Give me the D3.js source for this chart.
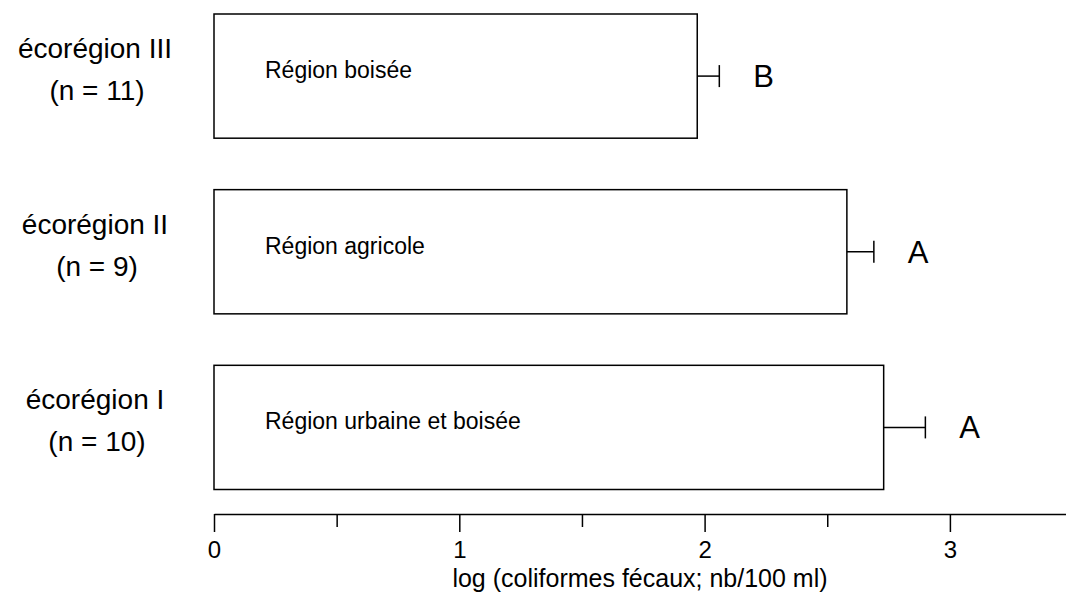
<!DOCTYPE html>
<html>
<head>
<meta charset="utf-8">
<script src="https://cdn.jsdelivr.net/npm/d3@7"></script>
<style>
  body { margin: 0; background: #fff; }
  svg { display: block; font-family: Arial, "Liberation Sans", sans-serif; }
  .axis path, .axis line { stroke: #000; stroke-width: 1.5; }
  .axis text { font-size: 24px; fill: #000; }
</style>
</head>
<body>
<svg id="chart"></svg>
<script>
const ecoregions = ['écorégion III', 'écorégion II', 'écorégion I'];
const sampleSizes = [11, 9, 10];
const landUse = ['Région boisée', 'Région agricole', 'Région urbaine et boisée'];
const meanLog = [1.97, 2.58, 2.73];
const errorLog = [0.09, 0.11, 0.17];
const groupLetters = ['B', 'A', 'A'];
const majorTicks = [0, 1, 2, 3];
const minorTicks = [0.5, 1.5, 2.5];
const axisTitle = 'log (coliformes fécaux; nb/100 ml)';

const svgWidth = 1066, svgHeight = 606;
const axisY = 514;

const rows = ecoregions.map((name, i) => ({
  name: name,
  n: sampleSizes[i],
  label: landUse[i],
  value: meanLog[i],
  err: errorLog[i],
  letter: groupLetters[i],
}));

const svg = d3.select('#chart')
    .attr('width', svgWidth)
    .attr('height', svgHeight);

const x = d3.scaleLinear()
    .domain([0, 3.5])
    .range([214, 214 + 3.5 * 245.3]);

const y = d3.scaleBand()
    .domain(ecoregions)
    .range([14, 489.5])
    .paddingInner(0.293)
    .paddingOuter(0);

const mid = d => y(d.name) + y.bandwidth() / 2;

// bars
svg.selectAll('.bar')
    .data(rows)
    .enter().append('rect')
    .attr('class', 'bar')
    .attr('x', x(0))
    .attr('y', d => y(d.name))
    .attr('width', d => x(d.value) - x(0))
    .attr('height', y.bandwidth())
    .attr('fill', '#fff')
    .attr('stroke', '#000')
    .attr('stroke-width', 1.5);

// error bars (one-sided)
const err = svg.append('g').attr('stroke', '#000').attr('stroke-width', 1.5);
err.selectAll('.err-line')
    .data(rows)
    .enter().append('line')
    .attr('x1', d => x(d.value))
    .attr('x2', d => x(d.value + d.err))
    .attr('y1', mid)
    .attr('y2', mid);
err.selectAll('.err-cap')
    .data(rows)
    .enter().append('line')
    .attr('x1', d => x(d.value + d.err))
    .attr('x2', d => x(d.value + d.err))
    .attr('y1', d => mid(d) - 11)
    .attr('y2', d => mid(d) + 11);

// letters
svg.selectAll('.letter')
    .data(rows)
    .enter().append('text')
    .attr('x', d => x(d.value + d.err) + 34)
    .attr('y', d => mid(d) + 11)
    .attr('font-size', 31)
    .text(d => d.letter);

// labels inside bars
svg.selectAll('.inner')
    .data(rows)
    .enter().append('text')
    .attr('x', x(0) + 51)
    .attr('y', d => mid(d) + 2)
    .attr('font-size', 23)
    .text(d => d.label);

// category labels
const cat = svg.append('g').attr('text-anchor', 'middle').attr('font-size', 28);
cat.selectAll('.cat1')
    .data(rows)
    .enter().append('text')
    .attr('x', 95)
    .attr('y', d => mid(d) - 18)
    .text(d => d.name);
cat.selectAll('.cat2')
    .data(rows)
    .enter().append('text')
    .attr('x', 97)
    .attr('y', d => mid(d) + 24)
    .text(d => `(n = ${d.n})`);

// x axis
svg.append('g')
    .attr('class', 'axis')
    .attr('transform', `translate(0,${axisY})`)
    .call(d3.axisBottom(x).tickValues(majorTicks).tickFormat(d3.format('d'))
        .tickSize(18).tickSizeOuter(0).tickPadding(9));

svg.append('g')
    .attr('class', 'axis')
    .attr('transform', `translate(0,${axisY})`)
    .call(d3.axisBottom(x).tickValues(minorTicks).tickFormat('')
        .tickSize(13).tickSizeOuter(0))
    .select('.domain').remove();

svg.append('text')
    .attr('x', 640)
    .attr('y', 587)
    .attr('text-anchor', 'middle')
    .attr('font-size', 25)
    .text(axisTitle);
</script>
</body>
</html>
